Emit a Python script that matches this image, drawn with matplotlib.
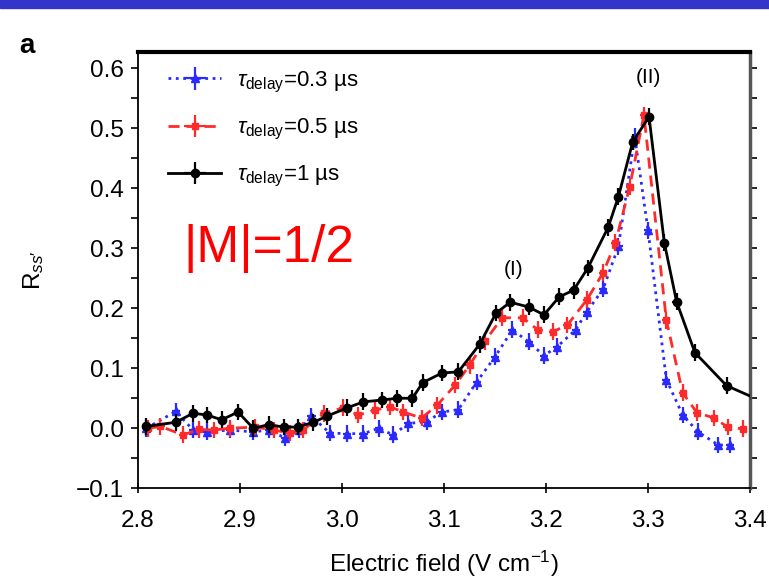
import matplotlib as mpl
import matplotlib.pyplot as plt
from matplotlib.patches import Rectangle
from matplotlib.ticker import MultipleLocator

mpl.use('Agg')
plt.rcParams['font.family'] = ['Liberation Sans', 'DejaVu Sans']
plt.rcParams['mathtext.fontset'] = 'custom'
plt.rcParams['mathtext.rm'] = 'Liberation Sans'
plt.rcParams['mathtext.it'] = 'Liberation Sans:italic'

# tau_delay = 0.3 us
x_03 = [2.808, 2.837, 2.854, 2.868, 2.890, 2.913, 2.928, 2.944, 2.958, 2.970,
        2.988, 3.005, 3.021, 3.036, 3.050, 3.065, 3.083, 3.098, 3.114, 3.132,
        3.150, 3.167, 3.183, 3.198, 3.211, 3.229, 3.240, 3.256, 3.271, 3.287,
        3.300, 3.318, 3.334, 3.349, 3.369, 3.380]
y_03 = [0.000, 0.028, -0.003, -0.006, -0.003, -0.006, -0.003, -0.016, -0.003, 0.020,
        -0.008, -0.009, -0.009, 0.000, -0.011, 0.008, 0.011, 0.027, 0.031, 0.077,
        0.119, 0.164, 0.144, 0.121, 0.136, 0.164, 0.194, 0.232, 0.303, 0.486,
        0.330, 0.081, 0.022, -0.006, -0.028, -0.028]

# tau_delay = 0.5 us
x_05 = [2.810, 2.822, 2.844, 2.860, 2.874, 2.890, 2.915, 2.933, 2.949, 2.962,
        2.982, 3.001, 3.016, 3.032, 3.047, 3.060, 3.078, 3.093, 3.111, 3.125,
        3.140, 3.157, 3.177, 3.192, 3.207, 3.221, 3.240, 3.256, 3.268, 3.282,
        3.296, 3.318, 3.334, 3.348, 3.365, 3.378, 3.393]
y_05 = [0.000, 0.003, -0.011, -0.002, -0.003, 0.000, 0.002, -0.003, -0.008, -0.003,
        0.025, 0.034, 0.022, 0.030, 0.036, 0.027, 0.017, 0.038, 0.072, 0.105,
        0.145, 0.184, 0.184, 0.164, 0.161, 0.172, 0.214, 0.259, 0.309, 0.402,
        0.522, 0.180, 0.059, 0.026, 0.017, 0.002, -0.001]

# tau_delay = 1 us
x_1 = [2.808, 2.837, 2.854, 2.868, 2.882, 2.898, 2.913, 2.928, 2.943, 2.957,
       2.972, 2.985, 3.005, 3.021, 3.039, 3.054, 3.069, 3.079, 3.098, 3.114,
       3.135, 3.151, 3.165, 3.183, 3.198, 3.213, 3.227, 3.241, 3.261, 3.271,
       3.285, 3.301, 3.316, 3.328, 3.346, 3.377, 3.405]
y_1 = [0.003, 0.010, 0.025, 0.022, 0.014, 0.027, 0.000, 0.006, 0.002, 0.002,
       0.010, 0.020, 0.034, 0.044, 0.047, 0.050, 0.050, 0.076, 0.092, 0.094,
       0.140, 0.192, 0.210, 0.202, 0.189, 0.219, 0.230, 0.267, 0.335, 0.386,
       0.477, 0.519, 0.309, 0.211, 0.126, 0.071, 0.050]

xerr = 0.004
yerr = 0.014

fig = plt.figure(figsize=(7.69, 5.81), dpi=100)
fig.patches.append(Rectangle((0, 0.986), 1, 0.014, transform=fig.transFigure,
                             color='#3434c8', zorder=0))
ax = fig.add_axes([0.1795, 0.1596, 0.7958, 0.751])

ax.errorbar(x_03, y_03, xerr=xerr, yerr=yerr, color='#2a2aff', ls=':', lw=2,
            marker='^', ms=6, elinewidth=1.6, capsize=0,
            label=r'$\tau_{\mathrm{delay}}$=0.3 µs', zorder=2)
ax.errorbar(x_05, y_05, xerr=xerr, yerr=yerr, color='#ff2a2a', ls='--', lw=2,
            dashes=(4, 2.5), marker='s', ms=5, elinewidth=1.6, capsize=0,
            label=r'$\tau_{\mathrm{delay}}$=0.5 µs', zorder=3)
ax.errorbar(x_1, y_1, xerr=xerr, yerr=yerr, color='black', ls='-', lw=2,
            marker='o', ms=6, elinewidth=1.6, capsize=0,
            label=r'$\tau_{\mathrm{delay}}$=1 µs', zorder=4)

ax.set_xlim(2.8, 3.4)
ax.set_ylim(-0.1, 0.627)
ax.yaxis.set_minor_locator(MultipleLocator(0.05))
ax.set_xticks([2.8, 2.9, 3.0, 3.1, 3.2, 3.3, 3.4])
ax.set_xticklabels(['2.8', '2.9', '3.0', '3.1', '3.2', '3.3', '3.4'])
ax.set_yticks([-0.1, 0.0, 0.1, 0.2, 0.3, 0.4, 0.5, 0.6])
ax.set_yticklabels(['\u22120.1', '0.0', '0.1', '0.2', '0.3', '0.4', '0.5', '0.6'])

ax.tick_params(axis='y', which='both', direction='out', left=True, right=True,
               length=5, width=1.2, labelsize=17.5, pad=5)
ax.tick_params(axis='x', which='both', direction='inout', top=False,
               length=7, width=1.2, labelsize=17.5, pad=12)
for side in ['left', 'bottom']:
    ax.spines[side].set_linewidth(1.3)
ax.spines['top'].set_linewidth(3)
ax.spines['right'].set_linewidth(2.5)
ax.spines['right'].set_color('#555555')

ax.set_xlabel('Electric field (V cm$^{-1}$)', fontsize=17.5, labelpad=12)
ax.set_ylabel(r'R$_{ss\prime}$', fontsize=17.5, labelpad=22)

ax.legend(loc='upper left', frameon=False, fontsize=16, handlelength=2.4,
          labelspacing=1.0, borderaxespad=0.4, handletextpad=0.7,
          bbox_to_anchor=(0.02, 1.0))

ax.text(2.844, 0.30, '|M|=1/2', color='red', fontsize=37, va='center', ha='left')
ax.text(3.168, 0.265, '(I)', fontsize=15, ha='center', va='center')
ax.text(3.3, 0.585, '(II)', fontsize=15, ha='center', va='center')
fig.text(0.025, 0.92, 'a', fontsize=20, fontweight='bold', ha='left', va='center')

fig.savefig('out.png', dpi=100)
